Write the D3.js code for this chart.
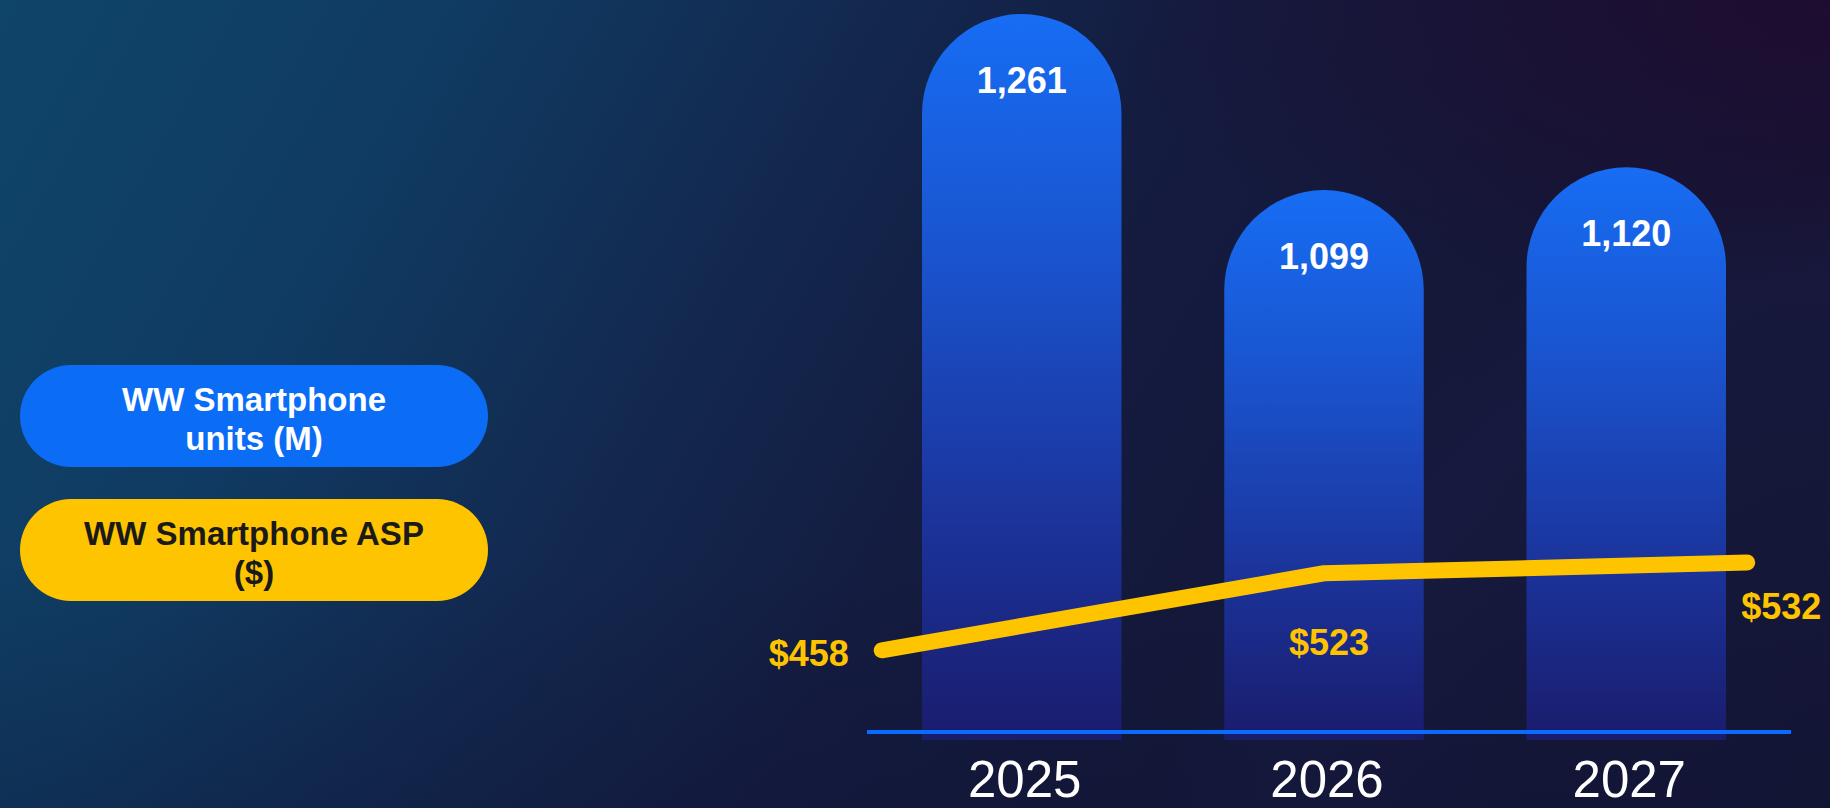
<!DOCTYPE html>
<html>
<head>
<meta charset="utf-8">
<script src="https://cdn.jsdelivr.net/npm/d3@7"></script>
<style>
  html, body { margin: 0; padding: 0; background: #12183a; }
  svg { display: block; font-family: "Liberation Sans", Arial, sans-serif; }
</style>
</head>
<body>
<svg width="1830" height="808"></svg>
<script>
var years = ["2025", "2026", "2027"];
var units = [1261, 1099, 1120];      // WW smartphone units (M)
var asp = [458, 523, 532];           // WW smartphone ASP ($)
var legendLabels = [["WW Smartphone", "units (M)"], ["WW Smartphone ASP", "($)"]];

var svg = d3.select("svg"),
	width = +svg.attr("width"),
	height = +svg.attr("height");

var defs = svg.append("defs");

// background: teal-blue on the left fading to dark navy / purple on the right
var bg = defs.append("linearGradient").attr("id", "bg")
	.attr("x1", "0%").attr("y1", "0%").attr("x2", "100%").attr("y2", "25%");
bg.append("stop").attr("offset", "0%").attr("stop-color", "#0f4569");
bg.append("stop").attr("offset", "25%").attr("stop-color", "#103a61");
bg.append("stop").attr("offset", "45%").attr("stop-color", "#13284f");
bg.append("stop").attr("offset", "62%").attr("stop-color", "#141c40");
bg.append("stop").attr("offset", "100%").attr("stop-color", "#141534");

var purple = defs.append("radialGradient").attr("id", "purple")
	.attr("cx", "100%").attr("cy", "0%").attr("r", "40%");
purple.append("stop").attr("offset", "0%").attr("stop-color", "#1f0c30").attr("stop-opacity", 0.9);
purple.append("stop").attr("offset", "100%").attr("stop-color", "#1f0c30").attr("stop-opacity", 0);

var glow = defs.append("radialGradient").attr("id", "glow")
	.attr("gradientUnits", "userSpaceOnUse")
	.attr("cx", 1960).attr("cy", 980).attr("r", 820);
glow.append("stop").attr("offset", "0%").attr("stop-color", "#1a1f4a").attr("stop-opacity", 0);
glow.append("stop").attr("offset", "88%").attr("stop-color", "#1a1f4a").attr("stop-opacity", 0.35);
glow.append("stop").attr("offset", "100%").attr("stop-color", "#1a1f4a").attr("stop-opacity", 0);

var bottomShade = defs.append("linearGradient").attr("id", "bottomShade")
	.attr("x1", "0%").attr("y1", "0%").attr("x2", "0%").attr("y2", "100%");
bottomShade.append("stop").attr("offset", "70%").attr("stop-color", "#0d1030").attr("stop-opacity", 0);
bottomShade.append("stop").attr("offset", "100%").attr("stop-color", "#0d1030").attr("stop-opacity", 0.25);

svg.append("rect").attr("width", width).attr("height", height).attr("fill", "url(#bg)");
svg.append("rect").attr("width", width).attr("height", height).attr("fill", "url(#purple)");
svg.append("rect").attr("width", width).attr("height", height).attr("fill", "url(#glow)");
svg.append("rect").attr("width", width).attr("height", height).attr("fill", "url(#bottomShade)");

// bar fill, bright blue at the top to indigo at the bottom
var barFill = defs.append("linearGradient").attr("id", "barFill")
	.attr("x1", "0%").attr("y1", "0%").attr("x2", "0%").attr("y2", "100%");
barFill.append("stop").attr("offset", "0%").attr("stop-color", "#176df4");
barFill.append("stop").attr("offset", "35%").attr("stop-color", "#1a52cc");
barFill.append("stop").attr("offset", "70%").attr("stop-color", "#1b339a");
barFill.append("stop").attr("offset", "100%").attr("stop-color", "#1a1c6c");

// scales
var x = d3.scaleBand().domain(years).range([922, 1726]).paddingInner(0.34).paddingOuter(0);
var y = d3.scaleLinear().domain([593, 1261]).range([740, 14]);   // bars start from a cut axis
var yLine = d3.scaleLinear().domain([400, 600]).range([719, 482]);

var bw = x.bandwidth(), r = bw / 2;
var reachLeft = 140, reachRight = 121; // the ASP line runs past the outer bars

function xLine(i) {
	var px = x(years[i]) + r;
	if (i == 0) return px - reachLeft;
	if (i == years.length - 1) return px + reachRight;
	return px;
}

// rounded-top bars
svg.append("g").selectAll("path")
	.data(units)
	.enter().append("path")
	.attr("fill", "url(#barFill)")
	.attr("d", function(d, i) {
		var x0 = x(years[i]), x1 = x0 + bw, yt = y(d), yb = y.range()[0];
		return "M" + x0 + "," + yb + "V" + (yt + r) +
			"A" + r + "," + r + " 0 0 1 " + x1 + "," + (yt + r) + "V" + yb + "Z";
	});

svg.append("g").selectAll("text")
	.data(units)
	.enter().append("text")
	.attr("x", function(d, i) { return x(years[i]) + r; })
	.attr("y", function(d) { return y(d) + 79; })
	.attr("text-anchor", "middle")
	.attr("fill", "#ffffff")
	.attr("font-weight", "bold")
	.attr("font-size", 36)
	.text(function(d) { return d3.format(",")(d); });

// baseline
svg.append("line")
	.attr("x1", 867).attr("x2", 1791)
	.attr("y1", 732).attr("y2", 732)
	.attr("stroke", "#0a6cff").attr("stroke-width", 4);

// year labels
svg.append("g").selectAll("text")
	.data(years)
	.enter().append("text")
	.attr("x", function(d) { return x(d) + r + 3; })
	.attr("y", 797)
	.attr("text-anchor", "middle")
	.attr("fill", "#ffffff")
	.attr("font-size", 51)
	.text(function(d) { return d; });

// ASP line
var line = d3.line()
	.x(function(d, i) { return xLine(i); })
	.y(function(d) { return yLine(d); });

svg.append("path")
	.datum(asp)
	.attr("d", line)
	.attr("fill", "none")
	.attr("stroke", "#ffc400")
	.attr("stroke-width", 16)
	.attr("stroke-linecap", "round")
	.attr("stroke-linejoin", "round");

svg.append("g").selectAll("text")
	.data(asp)
	.enter().append("text")
	.attr("x", function(d, i) {
		var px = xLine(i);
		if (i == 0) return px - 33;
		if (i == asp.length - 1) return px - 6;
		return px + 5;
	})
	.attr("y", function(d, i) {
		var py = yLine(d);
		if (i == 0) return py + 16;
		if (i == asp.length - 1) return py + 56;
		return py + 82;
	})
	.attr("text-anchor", function(d, i) {
		if (i == 0) return "end";
		if (i == asp.length - 1) return "start";
		return "middle";
	})
	.attr("fill", "#ffc400")
	.attr("font-weight", "bold")
	.attr("font-size", 36)
	.text(function(d) { return "$" + d; });

// legend pills
var legendColors = ["#0b6df6", "#ffc400"];
var legendText = ["#ffffff", "#1a1a1a"];

var legend = svg.append("g").selectAll("g")
	.data(legendLabels)
	.enter().append("g")
	.attr("transform", function(d, i) { return "translate(20," + (365 + i * 134) + ")"; });

legend.append("rect")
	.attr("width", 468).attr("height", 102)
	.attr("rx", 51).attr("ry", 51)
	.attr("fill", function(d, i) { return legendColors[i]; });

legend.each(function(d, i) {
	var t = d3.select(this).append("text")
		.attr("text-anchor", "middle")
		.attr("fill", legendText[i])
		.attr("font-weight", "bold")
		.attr("font-size", 33);
	t.selectAll("tspan")
		.data(d)
		.enter().append("tspan")
		.attr("x", 234)
		.attr("y", function(s, j) { return 46 + j * 39; })
		.text(function(s) { return s; });
});
</script>
</body>
</html>
